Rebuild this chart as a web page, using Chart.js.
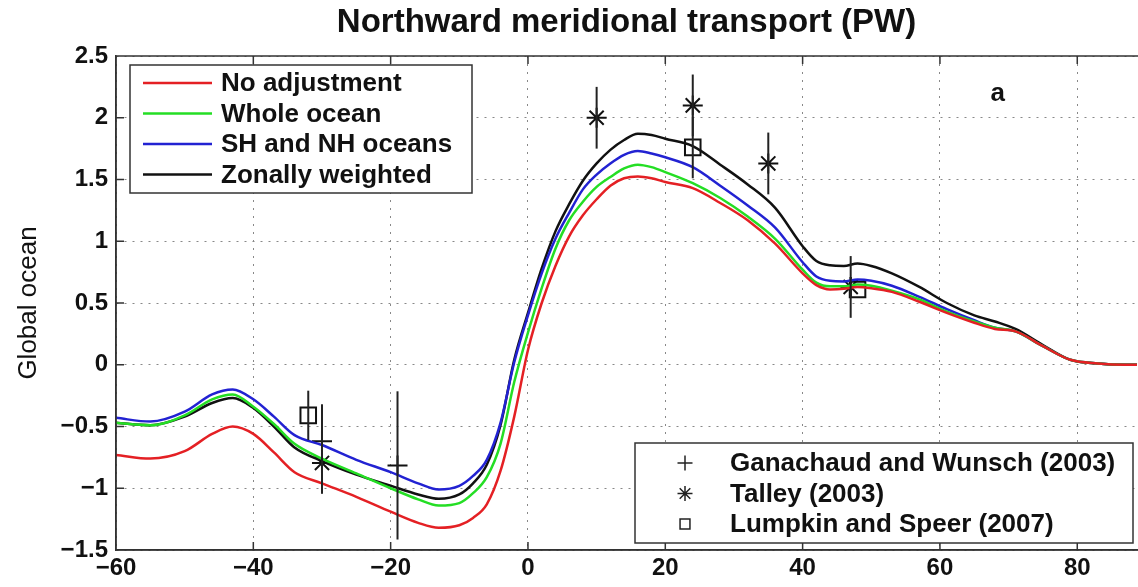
<!DOCTYPE html>
<html>
<head>
<meta charset="utf-8">
<script src="https://cdn.jsdelivr.net/npm/chart.js@4.4.1/dist/chart.umd.min.js"></script>
<style>
  html, body { margin: 0; padding: 0; background: #fff; overflow: hidden; }
  canvas { display: block; }
</style>
</head>
<body>
<canvas id="transport" width="1150" height="587"></canvas>
<script>
// latitude grid of the model curves
const lat = [-60, -55, -50, -46, -43, -40, -37, -34, -30, -25, -20, -16, -13, -10, -8, -6, -4, -2, 0, 2,
             4, 6, 8, 10, 12, 14, 16, 18, 20, 24, 28, 32, 36, 40, 42, 44, 46, 48, 50, 53,
             57, 61, 65, 68, 71, 75, 79, 83, 87, 90]

const noAdjust = [-0.73, -0.76, -0.70, -0.56, -0.50, -0.56, -0.71, -0.87, -0.96, -1.07, -1.19, -1.28, -1.32, -1.30, -1.24, -1.13, -0.86, -0.42, 0.12, 0.50,
                  0.80, 1.04, 1.21, 1.34, 1.45, 1.51, 1.525, 1.51, 1.48, 1.43, 1.31, 1.17, 0.98, 0.74, 0.645, 0.61, 0.615, 0.63, 0.62, 0.59,
                  0.51, 0.42, 0.34, 0.29, 0.27, 0.15, 0.04, 0.01, 0.0, 0.0]
const wholeOcean = [-0.47, -0.49, -0.41, -0.28, -0.24, -0.34, -0.48, -0.64, -0.76, -0.88, -1.00, -1.09, -1.14, -1.12, -1.04, -0.91, -0.64, -0.14, 0.26, 0.62,
                    0.94, 1.17, 1.32, 1.44, 1.52, 1.59, 1.62, 1.60, 1.56, 1.47, 1.35, 1.20, 1.02, 0.77, 0.665, 0.635, 0.635, 0.65, 0.64, 0.60,
                    0.53, 0.43, 0.35, 0.30, 0.27, 0.15, 0.04, 0.01, 0.0, 0.0]
const shNh = [-0.43, -0.46, -0.38, -0.24, -0.20, -0.28, -0.42, -0.57, -0.65, -0.77, -0.87, -0.96, -1.01, -0.98, -0.90, -0.77, -0.47, 0.02, 0.40, 0.74,
              1.02, 1.23, 1.42, 1.54, 1.63, 1.70, 1.73, 1.71, 1.68, 1.60, 1.45, 1.29, 1.11, 0.83, 0.715, 0.68, 0.675, 0.69, 0.68, 0.64,
              0.55, 0.45, 0.36, 0.30, 0.27, 0.15, 0.04, 0.01, 0.0, 0.0]
const zonal = [-0.47, -0.49, -0.42, -0.31, -0.27, -0.35, -0.50, -0.67, -0.78, -0.89, -0.98, -1.05, -1.085, -1.05, -0.96, -0.81, -0.49, 0.04, 0.42, 0.78,
               1.08, 1.30, 1.49, 1.63, 1.74, 1.82, 1.87, 1.86, 1.83, 1.77, 1.62, 1.46, 1.27, 0.96, 0.84, 0.805, 0.80, 0.82, 0.80, 0.74,
               0.63, 0.50, 0.40, 0.35, 0.29, 0.16, 0.04, 0.01, 0.0, 0.0]

// observational estimates
const gwLat = [-30, -19, 47]
const gwVal = [-0.62, -0.815, 0.63]
const gwErr = [0.30, 0.60, 0.25]
const talleyLat = [-30, 10, 24, 35, 47]
const talleyVal = [-0.795, 2.0, 2.1, 1.63, 0.63]
const talleyErr = [0.25, 0.25, 0.25, 0.25, 0]
const lsLat = [-32, 24, 48]
const lsVal = [-0.41, 1.76, 0.61]
const lsErr = [0.2, 0.25, 0]

const xTicks = [-60, -40, -20, 0, 20, 40, 60, 80]
const yTicks = [-1.5, -1, -0.5, 0, 0.5, 1, 1.5, 2, 2.5]

const FONT = "'Liberation Sans', Arial, Helvetica, sans-serif"
const toPts = (xs, ys) => xs.map((x, i) => ({x, y: ys[i]}))
const minus = v => String(v).replace('-', '\u2212')

const curve = (label, values, color) => ({
    type: 'line', label, data: toPts(lat, values),
    borderColor: color, borderWidth: 2.5, pointRadius: 0,
    cubicInterpolationMode: 'monotone', fill: false
})
const obs = (label, xs, ys, errs, style, radius) => ({
    type: 'scatter', label, data: toPts(xs, ys), errors: errs,
    pointStyle: style, pointRadius: radius, pointBorderWidth: 2,
    borderColor: '#111', backgroundColor: 'rgba(0,0,0,0)', legendRadius: style == 'rect' ? 7 : 7.5
})

// vertical error bars for the observations
const errorBars = {
    id: 'errorBars',
    afterDatasetsDraw(chart) {
        const {ctx, scales: {x, y}} = chart
        ctx.save()
        ctx.strokeStyle = '#222'
        ctx.lineWidth = 2
        chart.data.datasets.forEach(ds => {
            if (!ds.errors) return
            ds.data.forEach((p, i) => {
                const e = ds.errors[i]
                if (!e) return
                const px = x.getPixelForValue(p.x)
                ctx.beginPath()
                ctx.moveTo(px, y.getPixelForValue(p.y - e))
                ctx.lineTo(px, y.getPixelForValue(p.y + e))
                ctx.stroke()
            })
        })
        ctx.restore()
    }
}

// matlab style box with inward ticks, panel letter and the two legends
const matlabBox = {
    id: 'matlabBox',
    afterDraw(chart) {
        const {ctx, chartArea: a, scales: {x, y}} = chart
        ctx.save()
        ctx.strokeStyle = '#333'
        ctx.lineWidth = 1.5
        ctx.beginPath()
        ctx.moveTo(a.right + 1, a.top); ctx.lineTo(a.left, a.top); ctx.lineTo(a.left, a.bottom); ctx.lineTo(a.right + 1, a.bottom)
        xTicks.forEach(t => {
            const px = x.getPixelForValue(t)
            ctx.moveTo(px, a.bottom); ctx.lineTo(px, a.bottom - 8)
            ctx.moveTo(px, a.top); ctx.lineTo(px, a.top + 8)
        })
        yTicks.forEach(t => {
            const py = y.getPixelForValue(t)
            ctx.moveTo(a.left, py); ctx.lineTo(a.left + 8, py)
        })
        ctx.stroke()

        ctx.fillStyle = '#111'
        ctx.font = 'bold 26px ' + FONT
        ctx.textBaseline = 'middle'
        ctx.textAlign = 'center'
        ctx.fillText('a', x.getPixelForValue(68.4), y.getPixelForValue(2.19))

        const ds = chart.data.datasets
        ctx.textAlign = 'left'

        // legend for the model curves
        let L = a.left + 14, T = a.top + 9
        ctx.fillStyle = '#fff'
        ctx.fillRect(L, T, 342, 128)
        ctx.strokeStyle = '#333'
        ctx.lineWidth = 1.5
        ctx.strokeRect(L, T, 342, 128)
        ds.slice(0, 4).forEach((d, i) => {
            const ry = T + 18 + i * 30.5
            ctx.strokeStyle = d.borderColor
            ctx.lineWidth = 2.5
            ctx.beginPath(); ctx.moveTo(L + 13, ry); ctx.lineTo(L + 82, ry); ctx.stroke()
            ctx.fillStyle = '#111'
            ctx.fillText(d.label, L + 91, ry + 1)
        })

        // legend for the observations
        L = x.getPixelForValue(88.7) - 502; T = a.bottom - 107
        ctx.fillStyle = '#fff'
        ctx.fillRect(L, T, 498, 100)
        ctx.strokeStyle = '#333'
        ctx.lineWidth = 1.5
        ctx.strokeRect(L, T, 498, 100)
        ds.slice(4).forEach((d, i) => {
            const ry = T + 20 + i * 30.5
            ctx.strokeStyle = '#222'
            ctx.fillStyle = 'rgba(0,0,0,0)'
            ctx.lineWidth = 1.5
            Chart.helpers.drawPoint(ctx, {pointStyle: d.pointStyle, radius: d.legendRadius, rotation: 0, borderWidth: 1.5}, L + 50, ry)
            ctx.fillStyle = '#111'
            ctx.fillText(d.label, L + 95, ry + 1)
        })
        ctx.restore()
    }
}

new Chart('transport', {
    data: {
        datasets: [
            curve('No adjustment', noAdjust, 'rgb(228, 32, 36)'),
            curve('Whole ocean', wholeOcean, 'rgb(36, 222, 36)'),
            curve('SH and NH oceans', shNh, 'rgb(34, 34, 210)'),
            curve('Zonally weighted', zonal, '#111'),
            obs('Ganachaud and Wunsch (2003)', gwLat, gwVal, gwErr, 'cross', 10),
            obs('Talley (2003)', talleyLat, talleyVal, talleyErr, 'star', 10),
            obs('Lumpkin and Speer (2007)', lsLat, lsVal, lsErr, 'rect', 11)
        ]
    },
    options: {
        responsive: false,
        animation: false,
        devicePixelRatio: 1,
        layout: {padding: {left: 0, right: 1, top: 0, bottom: 0}},
        plugins: {
            legend: {display: false},
            tooltip: {enabled: false},
            title: {
                display: true,
                text: 'Northward meridional transport (PW)',
                fullSize: false,
                color: '#111',
                font: {family: FONT, size: 33, weight: 'bold'},
                padding: {top: 3, bottom: 13.4}
            }
        },
        scales: {
            x: {
                type: 'linear', min: -60, max: 88.7,
                afterBuildTicks: s => { s.ticks = xTicks.map(v => ({value: v})) },
                afterFit: s => { s.height = 37 },
                grid: {color: '#888', lineWidth: 1, drawTicks: false},
                border: {display: true, color: '#333', width: 1.5, dash: [2, 6]},
                ticks: {padding: 4, color: '#111', font: {family: FONT, size: 24, weight: 'bold'}, callback: minus}
            },
            y: {
                type: 'linear', min: -1.5, max: 2.5,
                afterBuildTicks: s => { s.ticks = yTicks.map(v => ({value: v})) },
                afterFit: s => { s.width = 116 },
                grid: {color: '#888', lineWidth: 1, drawTicks: false},
                border: {display: true, color: '#333', width: 1.5, dash: [2, 6]},
                title: {display: true, text: 'Global ocean', color: '#111',
                        font: {family: FONT, size: 26}, padding: {top: 13, bottom: 0}},
                ticks: {padding: 8, color: '#111', font: {family: FONT, size: 24, weight: 'bold'}, callback: minus}
            }
        }
    },
    plugins: [errorBars, matlabBox]
})
</script>
</body>
</html>
